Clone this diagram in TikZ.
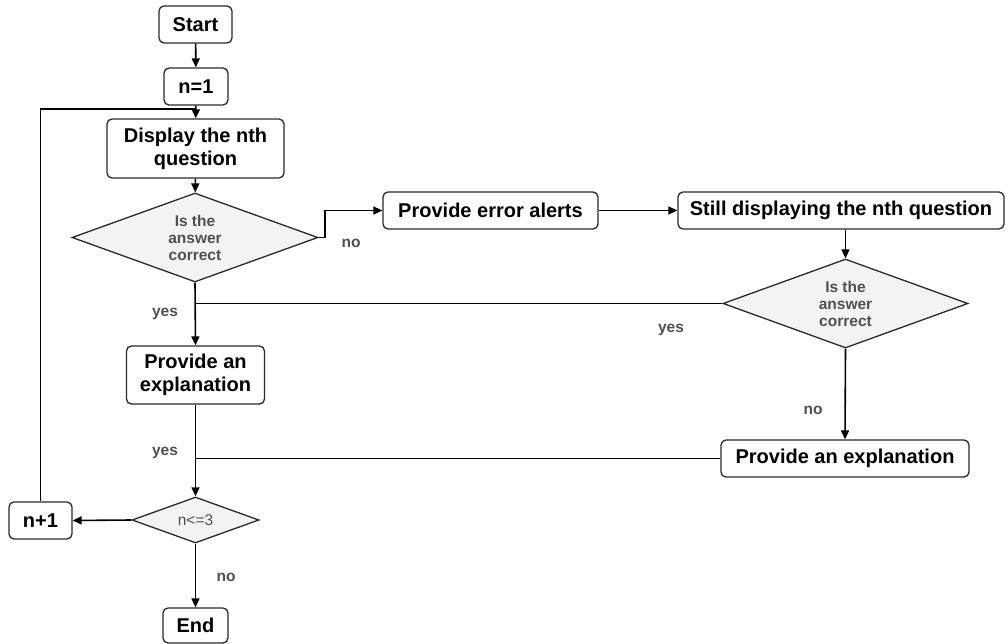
\documentclass[tikz,border=0pt]{standalone}
\usepackage{fontspec}
\setmainfont{Liberation Sans}
\usetikzlibrary{shapes.geometric,arrows.meta}
\definecolor{lbl}{HTML}{505050}
\definecolor{dfill}{HTML}{F3F3F3}
\definecolor{edge}{HTML}{2A2A2A}
\begin{document}
\begin{tikzpicture}[x=1pt,y=-1pt,
  box/.style={draw=edge,line width=1.3pt,rounded corners=5pt,fill=white,
    inner sep=0pt,align=center,font=\fontsize{20}{23}\selectfont\bfseries},
  dec/.style={draw=edge,line width=1.3pt,fill=dfill,shape=diamond,aspect=2.7,
    inner sep=0pt,align=center,text=lbl,font=\fontsize{15.5}{17}\selectfont\bfseries},
  lab/.style={text=lbl,font=\fontsize{15.5}{17}\selectfont\bfseries,inner sep=0pt},
  conn/.style={draw=black,line width=1.6pt},
  arr/.style={conn,-{Triangle[length=9pt,width=8pt]}}]
\useasboundingbox (0,0) rectangle (1008,644);
% nodes
\node[box,minimum width=73pt,minimum height=37pt] (start) at (195.5,24.5) {Start};
\node[box,minimum width=64pt,minimum height=37pt] (n1) at (196,86.5) {n=1};
\node[box,minimum width=177pt,minimum height=59pt] (disp) at (195.5,148.5) {Display the nth\\question};
\node[dec,minimum width=246pt,minimum height=89pt] (d1) at (195,237.5) {Is the\\answer\\correct};
\node[box,minimum width=215pt,minimum height=37pt] (err) at (490.5,210.5) {Provide error alerts};
\node[box,minimum width=326pt,minimum height=37pt] (still) at (841,210.5) {Still displaying the nth question};
\node[dec,minimum width=245pt,minimum height=89pt] (d2) at (845.5,303.5) {Is the\\answer\\correct};
\node[box,minimum width=138pt,minimum height=58pt] (pe1) at (195.5,375) {Provide an\\explanation};
\node[box,minimum width=248pt,minimum height=37pt] (pe2) at (845,458.5) {Provide an explanation};
\node[dec,font=\fontsize{15.5}{17}\selectfont,minimum width=127pt,minimum height=46pt] (d3) at (195.5,520) {n<=3};
\node[box,minimum width=63pt,minimum height=37pt] (np1) at (40.5,520.5) {n+1};
\node[box,minimum width=65pt,minimum height=35pt] (end) at (195.5,625.5) {End};
% helper coordinates
\coordinate (loopin) at (196,109);
\coordinate (nobend) at (325,237.5);
% connectors
\draw[arr] (start) -- (n1);
\draw[arr] (n1) -- (disp);
\draw[conn] (np1.north) |- (loopin);
\draw[arr] (disp) -- (d1);
\draw[arr] (d1.east) -- (nobend) |- (err.west);
\draw[arr] (err) -- (still);
\draw[arr] (d2.north |- still.south) -- (d2.north);
\draw[arr] (d1.south) -- (pe1.north);
\draw[conn] (d2.west) -- (d1.south |- d2.west);
\draw[arr] (d2.south) -- (pe2.north);
\draw[arr] (pe1.south) -- (d3.north);
\draw[conn] (pe2.west) -- (d3.north |- pe2.west);
\draw[arr] (d3.west) -- (np1.east);
\draw[arr] (d3.south) -- (end.north);
% labels
\node[lab] (l1) at (351,243) {no};
\node[lab] (l2) at (165,314) {yes};
\node[lab] (l3) at (671,330) {yes};
\node[lab] (l4) at (813,410) {no};
\node[lab] (l5) at (165,453) {yes};
\node[lab] (l6) at (226,577) {no};
\end{tikzpicture}
\end{document}
